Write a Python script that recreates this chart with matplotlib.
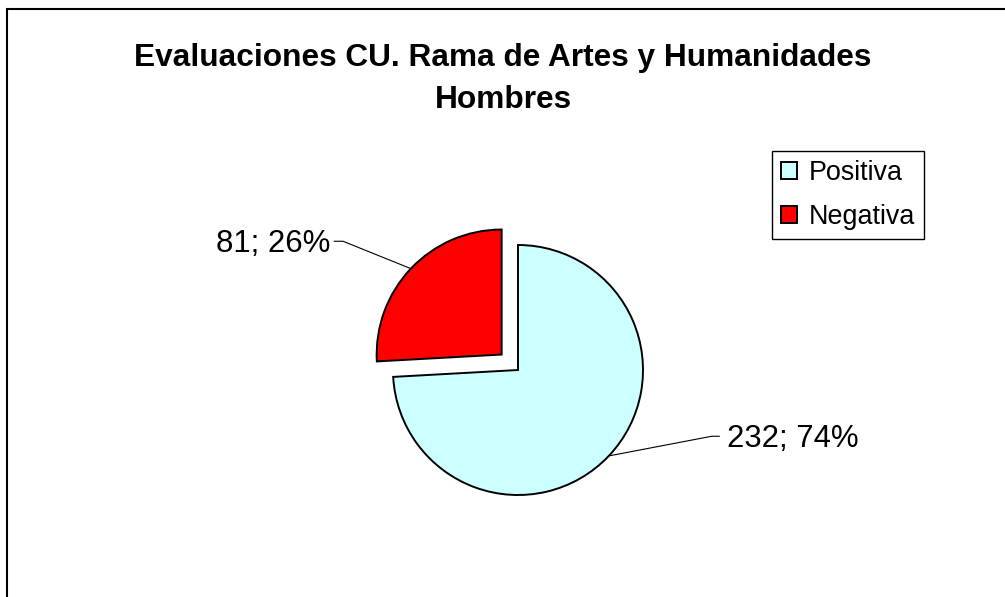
import matplotlib
matplotlib.use("Agg")
import matplotlib.pyplot as plt
import numpy as np
from matplotlib.patches import Rectangle

labels = ["Positiva", "Negativa"]
values = [232, 81]
colors = ["#CCFFFF", "#FF0000"]
explode = [0.0, 0.18]
title = "Evaluaciones CU. Rama de Artes y Humanidades\nHombres"

W, H = 1005, 597
cx, cy, R = 518, 370, 125  # pie centre and radius in pixels

plt.rcParams['font.family'] = ['Liberation Sans', 'DejaVu Sans']

fig = plt.figure(figsize=(W / 100, H / 100), dpi=100)
ax = fig.add_axes([0, 0, 1, 1])

wedges, _ = ax.pie(values, colors=colors, explode=explode, startangle=90,
                   counterclock=False, radius=1.0,
                   wedgeprops=dict(edgecolor='black', linewidth=1.4))
# pie resets the limits, so set them afterwards
ax.set_xlim(-cx / R, (W - cx) / R)
ax.set_ylim((cy - H) / R, cy / R)
ax.set_aspect('equal')
ax.axis('off')

# data labels with leader lines
total = sum(values)
text_pos = [(1.67, -0.55, 'left'), (-1.50, 1.01, 'right')]
for w, v, ex, (tx, ty, ha) in zip(wedges, values, explode, text_pos):
    mid = np.deg2rad((w.theta1 + w.theta2) / 2)
    ox, oy = ex * np.cos(mid), ex * np.sin(mid)
    px, py = ox + np.cos(mid), oy + np.sin(mid)
    if ha == 'left':
        elbow, end = tx - 0.12, tx - 0.06
    else:
        elbow, end = tx + 0.10, tx + 0.03
    ax.plot([px, elbow, end], [py, ty + 0.02, ty + 0.02], color='black', lw=0.8)
    ax.text(tx, ty, f"{v}; {round(100 * v / total)}%", ha=ha, va='center',
            fontsize=22.4)

fig.text(503 / W, 1 - 79 / H, title, ha='center', va='center',
         fontsize=22.8, fontweight='bold', linespacing=1.48)

leg = ax.legend(wedges, labels, loc='upper left',
                bbox_to_anchor=(772 / W, 1 - 151 / H), bbox_transform=fig.transFigure,
                fontsize=19.4, frameon=True, fancybox=False, framealpha=1,
                edgecolor='black', borderaxespad=0, borderpad=0.33,
                handlelength=0.6, handleheight=0.6, handletextpad=0.45,
                labelspacing=0.68)
leg.get_frame().set_linewidth(1.0)

fig.patches.append(Rectangle((7 / W, -0.1), 1.1, 1 - 9 / H + 0.1,
                             transform=fig.transFigure, fill=False,
                             edgecolor='black', linewidth=1.5))

fig.savefig('out.png', dpi=100)
